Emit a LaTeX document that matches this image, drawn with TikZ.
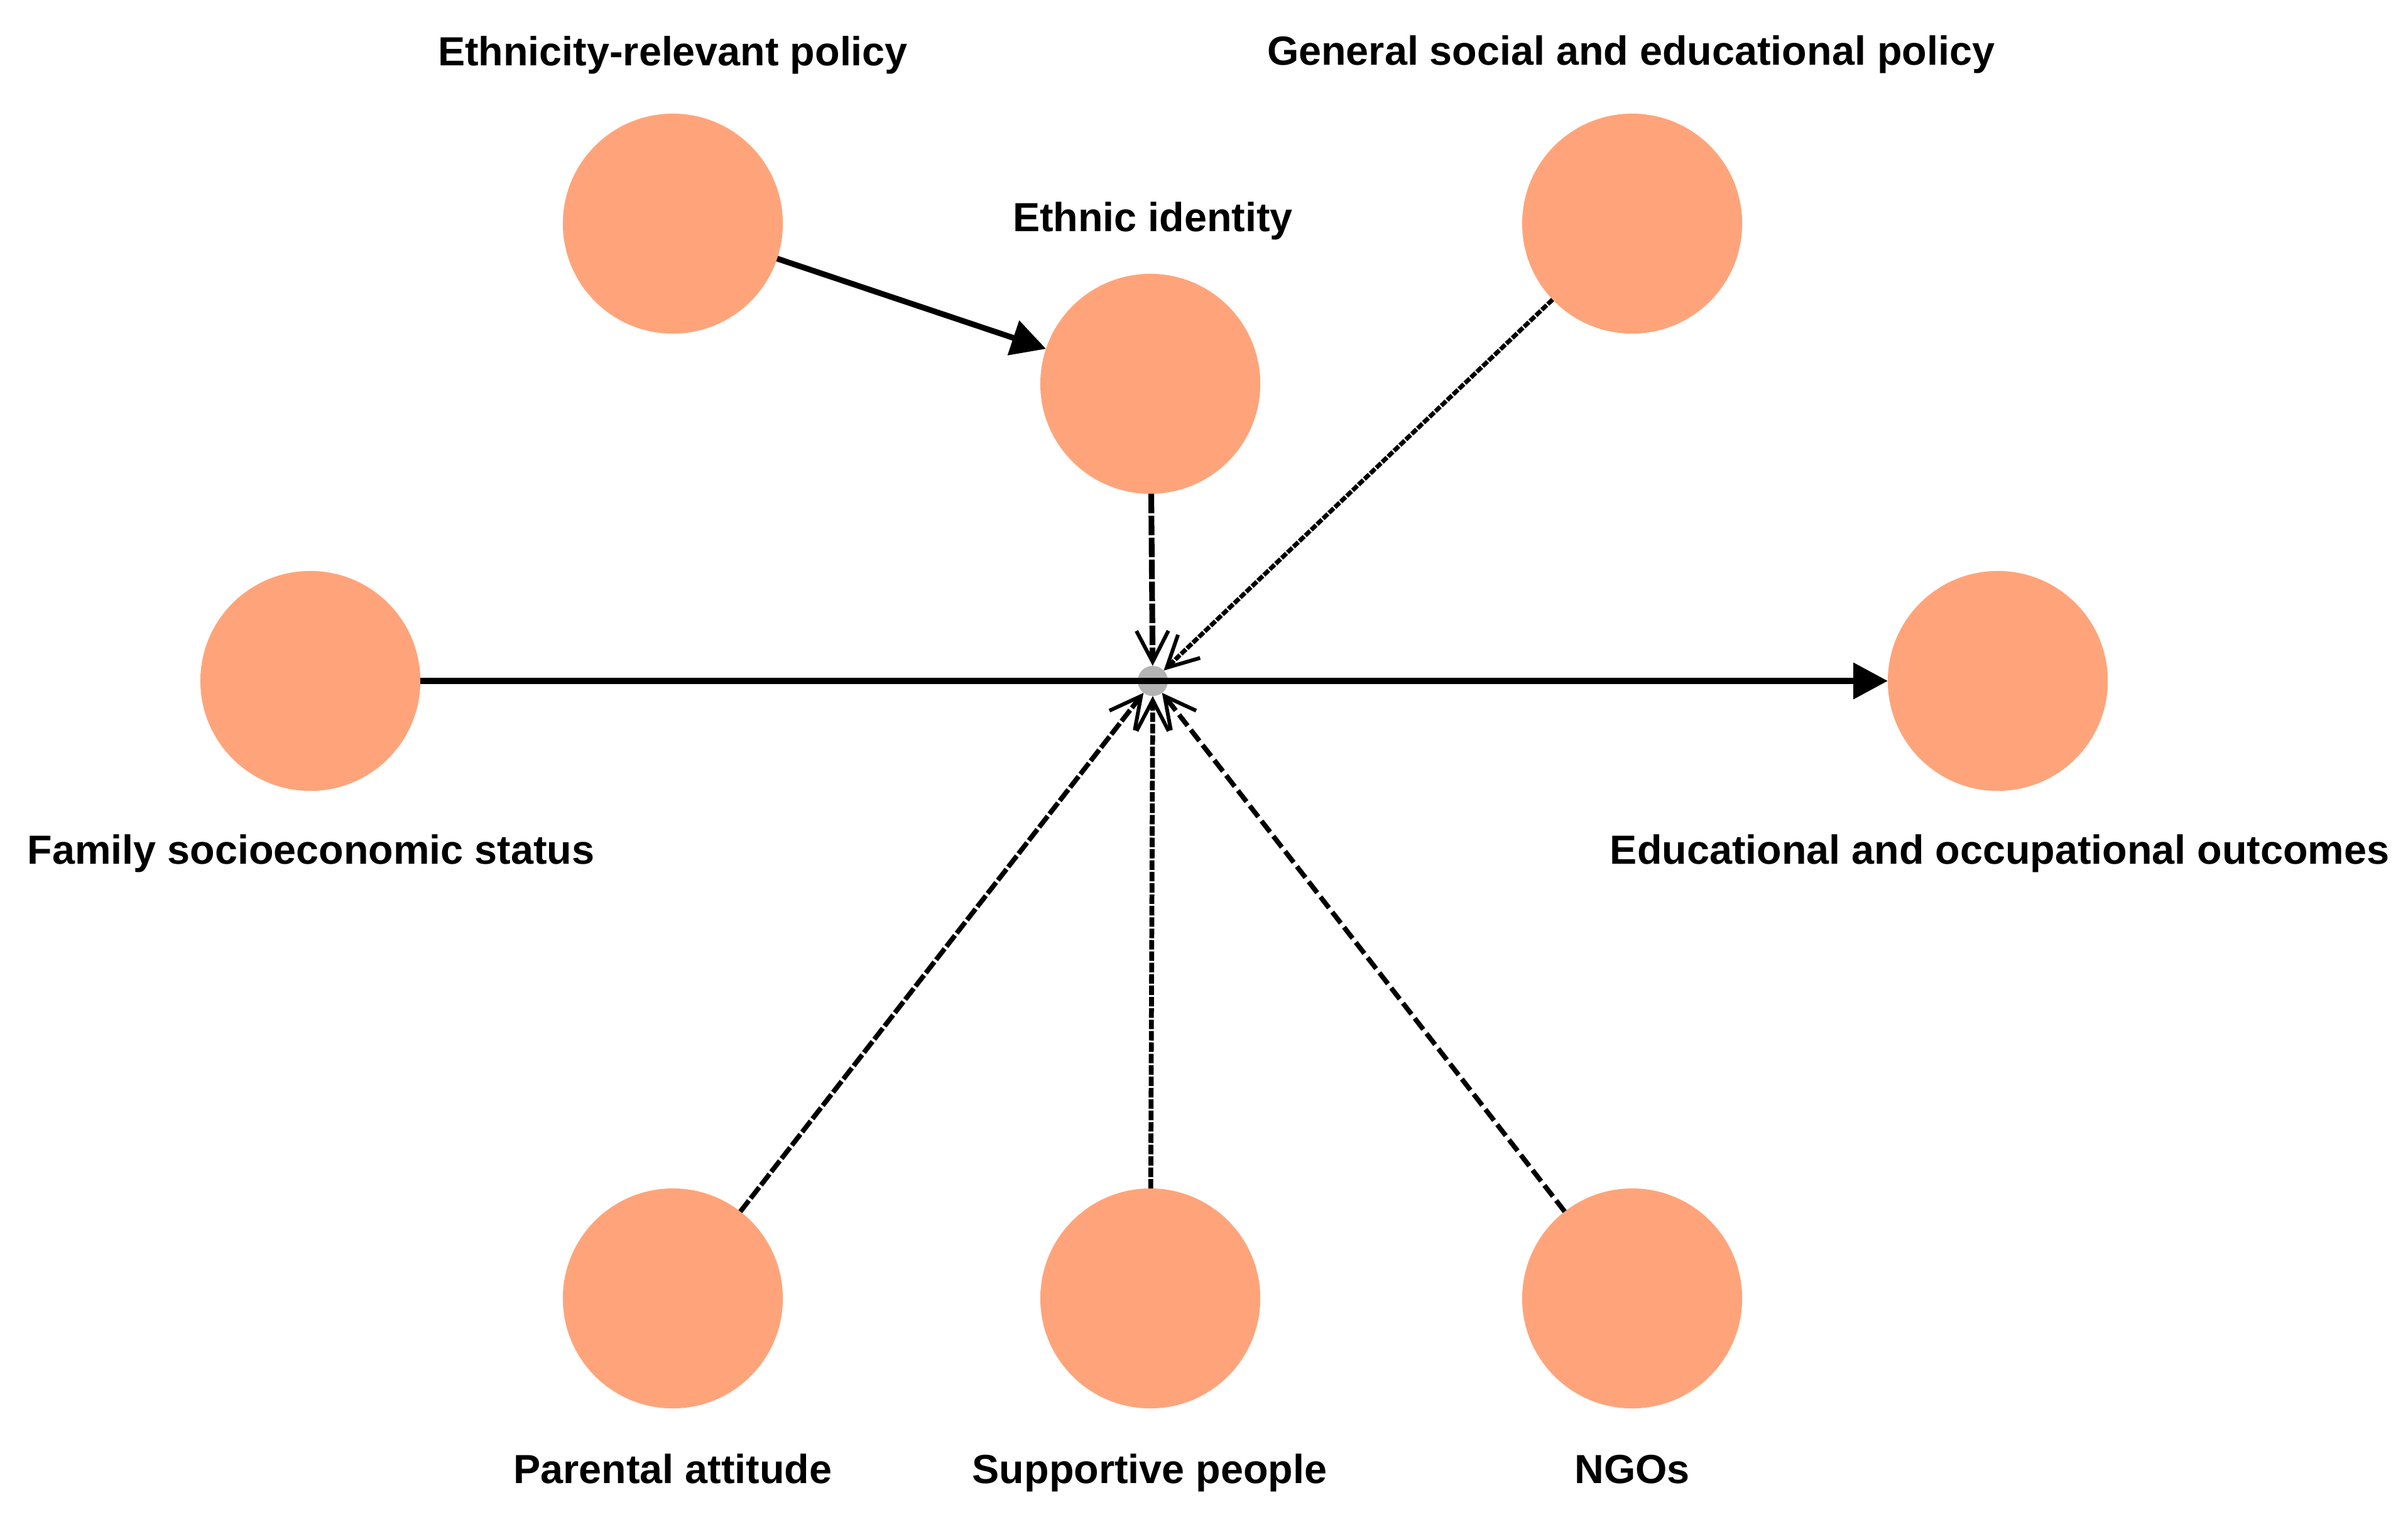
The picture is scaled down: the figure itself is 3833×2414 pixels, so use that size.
\documentclass[tikz,border=0pt]{standalone}
\usepackage{fontspec}
\setmainfont{Liberation Sans}
\usetikzlibrary{arrows.meta}
\definecolor{bubble}{HTML}{FFA47A}
\definecolor{hubgray}{HTML}{B3B3B3}
\begin{document}
\begin{tikzpicture}[x=0.01cm,y=-0.01cm,
  factor/.style={circle,fill=bubble,draw=none,minimum size=3.5cm,inner sep=0pt,outer sep=0pt},
  hubdot/.style={circle,fill=hubgray,draw=none,minimum size=0.48cm,inner sep=0pt,outer sep=0pt},
  lbl/.style={anchor=base,inner sep=0pt,font=\fontsize{18.4}{22}\selectfont\bfseries},
  solidarrow/.style={line width=2.6pt,-{Triangle[length=15.6pt,width=16pt]}},
  dasharrow/.style={line width=2.2pt,-{Straight Barb[length=14pt,width=14.5pt,line width=1.7pt]}}
]
\useasboundingbox (0,0) rectangle (3833,2414);
% factor circles
\node[factor] (erp) at (1071,356) {};
\node[factor] (ei)  at (1831,611) {};
\node[factor] (gse) at (2598,356) {};
\node[factor] (fam) at (494,1084) {};
\node[factor] (out) at (3180,1084) {};
\node[factor] (par) at (1071,2067) {};
\node[factor] (sup) at (1831,2067) {};
\node[factor] (ngo) at (2598,2067) {};
\node[hubdot] (hub) at (1835,1084) {};
% labels
\node[lbl] (lerp) at (1071,104) {Ethnicity-relevant policy};
\node[lbl] (lgse) at (2596,103) {General social and educational policy};
\node[lbl] (lei)  at (1835,368) {Ethnic identity};
\node[lbl] (lfam) at (495,1375) {Family socioeconomic status};
\node[lbl] (lout) at (3183,1375) {Educational and occupational outcomes};
\node[lbl] (lpar) at (1071,2361) {Parental attitude};
\node[lbl] (lsup) at (1830,2361) {Supportive people};
\node[lbl] (lngo) at (2598,2361) {NGOs};
% connectors
\draw[solidarrow] (erp) -- (ei);
\draw[solidarrow] (fam) -- (out);
\draw[dasharrow,line width=2.6pt,dash pattern=on 8.8pt off 1.14pt] (ei) -- (hub);
\draw[dasharrow,line width=2pt,dash pattern=on 3pt off 0.7pt] (gse) -- (hub);
\draw[dasharrow,dash pattern=on 6.3pt off 1.3pt] (par) -- (hub);
\draw[dasharrow,dash pattern=on 4.3pt off 0.85pt] (sup) -- (hub);
\draw[dasharrow,dash pattern=on 6.3pt off 2.4pt] (ngo) -- (hub);
\end{tikzpicture}
\end{document}
